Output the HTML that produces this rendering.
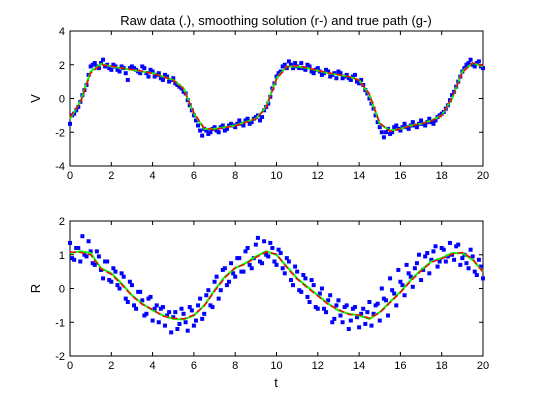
<!DOCTYPE html>
<html><head><meta charset="utf-8"><style>
body{margin:0;background:#fff}
svg{display:block;font-family:"Liberation Sans",sans-serif}
</style></head><body>
<svg id="c" width="533" height="400" viewBox="0 0 533 400"></svg>
<script>
// smooth curves at t step 0.5
const curveT=[0,0.5,1,1.5,2,2.5,3,3.5,4,4.5,5,5.5,6,6.5,7,7.5,8,8.5,9,9.5,10,10.5,11,11.5,12,12.5,13,13.5,14,14.5,15,15.5,16,16.5,17,17.5,18,18.5,19,19.5,20];
const vTrue=[-1.2,-0.2,1.6,2.05,1.9,1.8,1.7,1.6,1.5,1.3,1.1,0.6,-0.9,-1.8,-1.8,-1.7,-1.6,-1.4,-1.2,-0.5,1.2,1.9,1.9,1.8,1.65,1.5,1.4,1.3,1.1,0.2,-1.5,-1.9,-1.8,-1.6,-1.5,-1.3,-1.0,0.0,1.6,2.1,1.9];
const vSmooth=[-1.1,-0.25,1.5,2.0,1.92,1.8,1.72,1.62,1.48,1.3,1.08,0.55,-0.85,-1.75,-1.85,-1.72,-1.62,-1.42,-1.22,-0.55,1.15,1.88,1.95,1.82,1.66,1.52,1.42,1.3,1.08,0.25,-1.45,-1.95,-1.8,-1.62,-1.5,-1.32,-1.02,0.05,1.55,2.1,1.95];
const rTrue=[1.05,1.1,1.05,0.6,0.45,0.15,-0.2,-0.45,-0.65,-0.8,-0.9,-0.92,-0.8,-0.5,-0.05,0.35,0.6,0.75,0.95,1.1,1.0,0.65,0.3,0.05,-0.2,-0.45,-0.65,-0.75,-0.8,-0.9,-0.7,-0.4,-0.1,0.25,0.55,0.8,0.9,1.05,1.05,0.85,0.5];
const rSmooth=[1.08,1.07,1.0,0.58,0.42,0.12,-0.22,-0.47,-0.62,-0.82,-0.88,-0.9,-0.78,-0.52,-0.08,0.32,0.62,0.72,0.92,1.08,1.02,0.62,0.28,0.02,-0.22,-0.47,-0.62,-0.77,-0.78,-0.88,-0.72,-0.42,-0.12,0.22,0.52,0.78,0.88,1.02,1.07,0.88,0.48];
// observations at t = 0,0.2,...,20 and t = 0.1,0.3,...,19.9
const vObsA=[-1.5,-0.9,-0.5,0.2,0.8,1.9,2.1,1.8,2.3,2.0,1.7,1.9,1.6,1.8,1.1,1.9,1.7,1.5,1.8,1.3,1.6,1.4,1.2,1.4,1.0,1.2,0.8,0.6,0.3,-0.4,-1.0,-1.6,-2.2,-1.9,-2.0,-1.7,-2.0,-1.6,-1.8,-1.5,-1.7,-1.3,-1.6,-1.2,-1.4,-1.1,-1.3,-0.7,-0.3,0.6,1.3,1.6,2.0,2.2,1.8,1.9,2.1,1.7,1.9,1.5,1.8,1.4,1.7,1.3,1.5,1.6,1.2,1.4,1.1,1.4,0.9,0.8,0.3,-0.3,-1.0,-1.7,-2.3,-1.8,-2.0,-1.6,-1.9,-1.5,-1.8,-1.4,-1.7,-1.3,-1.6,-1.2,-1.5,-1.1,-0.9,-0.6,-0.1,0.4,1.0,1.6,2.0,2.3,1.9,2.2,1.8];
const vObsB=[-1.0,-0.7,-0.2,0.5,1.4,2.0,1.9,2.1,1.9,1.8,2.0,1.7,1.9,1.5,1.8,1.8,1.6,1.9,1.5,1.7,1.3,1.5,1.1,1.3,1.1,0.9,0.7,0.4,-0.1,-0.7,-1.3,-1.9,-1.8,-2.1,-1.8,-1.9,-1.7,-1.9,-1.6,-1.6,-1.5,-1.5,-1.3,-1.5,-1.2,-1.0,-1.1,-0.5,0.1,0.9,1.5,1.9,1.8,2.0,2.1,1.8,1.8,2.0,1.6,1.7,1.6,1.5,1.6,1.4,1.2,1.5,1.3,1.2,1.3,1.0,1.1,0.5,0.0,-0.6,-1.4,-2.0,-2.0,-2.1,-1.7,-1.8,-1.7,-1.7,-1.6,-1.6,-1.5,-1.5,-1.4,-1.4,-1.3,-1.0,-0.8,-0.4,0.2,0.7,1.3,1.8,2.1,2.0,2.1,1.9];
const rObsA=[1.35,0.85,1.2,1.55,0.95,1.1,0.7,0.95,0.3,0.8,0.2,0.5,0.0,0.35,-0.4,0.1,-0.6,-0.1,-0.8,-0.3,-0.95,-0.5,-0.6,-1.1,-0.7,-0.85,-1.2,-0.6,-1.0,-0.55,-1.1,-0.5,-0.9,-0.2,-0.5,0.2,-0.3,0.55,0.1,0.75,0.35,0.9,0.5,1.2,0.6,1.3,0.8,1.4,0.95,1.2,0.7,1.05,0.45,0.8,0.1,0.5,-0.1,0.3,-0.4,0.1,-0.6,0.0,-0.7,-0.2,-0.9,-0.35,-1.0,-0.5,-0.95,-0.55,-1.15,-0.6,-0.7,-1.1,-0.5,-0.95,-0.3,-0.8,-0.05,-0.5,0.2,-0.2,0.45,0.05,0.75,0.25,0.95,0.45,1.1,0.65,1.2,0.8,1.35,0.85,1.3,0.9,0.75,1.15,0.5,0.85,0.3];
const rObsB=[0.9,1.2,0.8,1.0,1.4,0.75,1.1,0.55,0.8,0.25,0.6,0.1,0.45,-0.3,0.2,-0.5,-0.1,-0.35,-0.75,-0.25,-0.6,-1.0,-0.55,-0.8,-1.3,-0.7,-1.05,-0.75,-1.25,-0.65,-0.95,-0.3,-0.75,-0.05,-0.55,0.35,-0.05,0.6,0.2,0.45,0.9,0.5,1.1,0.7,0.9,1.5,0.75,1.0,1.35,0.8,1.15,0.6,0.9,0.25,0.65,-0.05,0.4,-0.25,0.25,-0.55,-0.15,-0.6,-0.35,-1.0,-0.5,-0.8,-0.55,-1.2,-0.6,-0.85,-0.75,-1.05,-0.4,-0.75,-0.45,0.0,-0.35,0.3,-0.15,0.55,0.1,0.7,0.35,0.6,1.0,0.55,1.05,0.85,1.25,0.8,1.15,0.95,1.0,1.25,0.7,1.0,0.6,0.95,0.4,0.65];
const xTicks=[0,2,4,6,8,10,12,14,16,18,20];
const vTicks=[-4,-2,0,2,4];
const rTicks=[-2,-1,0,1,2];

const svg=document.getElementById('c');
const NS='http://www.w3.org/2000/svg';
function mk(tag,attrs,parent){const e=document.createElementNS(NS,tag);for(const k in attrs)e.setAttribute(k,attrs[k]);(parent||svg).appendChild(e);return e;}
const X0=70,X1=483;
const sx=t=>X0+(t/20)*(X1-X0);

function panel(top,bot,ymin,ymax,ticks,trueArr,smArr,obsA,obsB,ylabel,name){
  const sy=v=>bot-(v-ymin)/(ymax-ymin)*(bot-top);
  const g=mk('g',{});
  
  
  const frame=mk('rect',{x:X0,y:top,width:X1-X0,height:bot-top,fill:'#fff',stroke:'#000','stroke-width':1},g);
  
  
  xTicks.forEach(t=>{
    const x=sx(t);
    mk('line',{x1:x,y1:bot,x2:x,y2:bot-4,stroke:'#000'},g);
    mk('line',{x1:x,y1:top,x2:x,y2:top+4,stroke:'#000'},g);
    const tx=mk('text',{x:x,y:bot+13,'font-size':11,'text-anchor':'middle'},g);
    tx.textContent=t;
    
    
  });
  ticks.forEach(v=>{
    const y=sy(v);
    mk('line',{x1:X0,y1:y,x2:X0+4,y2:y,stroke:'#000'},g);
    mk('line',{x1:X1,y1:y,x2:X1-4,y2:y,stroke:'#000'},g);
    const tx=mk('text',{x:X0-5,y:y+4,'font-size':11,'text-anchor':'end'},g);
    tx.textContent=v;
    
    
  });
  const yl=mk('text',{x:0,y:0,'font-size':13,'text-anchor':'middle',transform:`translate(40,${(top+bot)/2}) rotate(-90)`},g);
  yl.textContent=ylabel;
  
  
  const dots=(arr,off)=>{arr.forEach((v,i)=>{
    const d=mk('rect',{x:sx(off+i*0.2)-2,y:sy(v)-2,width:4,height:4,fill:'#0000ff'},g);
    
    
  });};
  dots(obsA,0);dots(obsB,0.1);
  const gl=mk('polyline',{points:trueArr.map((v,i)=>sx(curveT[i])+','+sy(v)).join(' '),fill:'none',stroke:'#00ff00','stroke-width':2},g);
  
  
  const rl=mk('polyline',{points:smArr.map((v,i)=>sx(curveT[i])+','+sy(v)).join(' '),fill:'none',stroke:'#ff0000','stroke-width':1.5,'stroke-dasharray':'6 3'},g);
  
  
}
panel(31,166,-4,4,vTicks,vTrue,vSmooth,vObsA,vObsB,'V','v-panel');
panel(221,356,-2,2,rTicks,rTrue,rSmooth,rObsA,rObsB,'R','r-panel');
const title=mk('text',{x:276,y:25,'font-size':13,'text-anchor':'middle'});
title.textContent='Raw data (.), smoothing solution (r-) and true path (g-)';


const xl=mk('text',{x:276,y:387,'font-size':13,'text-anchor':'middle'});
xl.textContent='t';


</script>
</body></html>
